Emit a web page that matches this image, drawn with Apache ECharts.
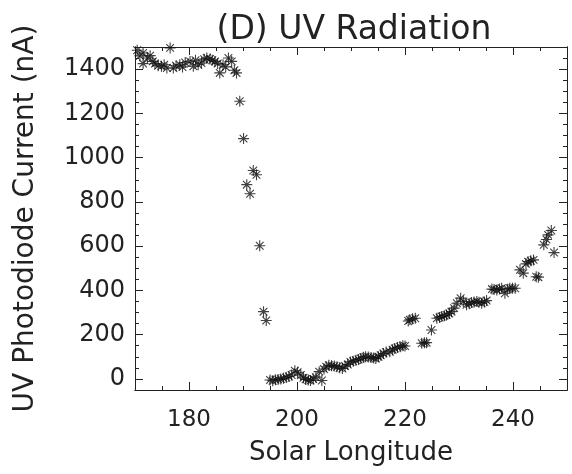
<!DOCTYPE html>
<html>
<head>
<meta charset="utf-8">
<script src="https://cdn.jsdelivr.net/npm/echarts@6/dist/echarts.min.js"></script>
<style>
html,body{margin:0;padding:0;background:#fff;}
#chart{width:572px;height:474px;}
</style>
</head>
<body>
<div id="chart"></div>
<script>
// Solar longitude values
var longitude = [
170.4,170.9,171.5,171.5,172.3,172.8,173.3,173.7,174.3,174.9,175.4,175.9,176.5,177.1,177.6,178.3,178.8,179.3,
180.2,180.8,181.2,181.7,182.3,182.8,183.3,183.9,184.3,184.8,185.3,185.7,186.3,186.8,187.3,187.9,188.4,188.8,
189.4,190.1,190.7,191.3,191.9,192.5,193.1,193.8,194.3,
195.0,195.5,196.0,196.5,197.0,197.5,198.0,198.5,199.0,199.6,200.1,200.7,201.2,201.6,202.1,202.5,203.0,203.5,
204.1,204.6,205.0,205.4,205.9,206.4,206.9,207.4,207.9,208.4,208.9,209.4,209.9,210.4,210.9,211.4,211.8,212.3,
212.7,213.2,213.7,214.2,214.6,215.1,215.5,216.0,216.5,217.2,217.7,218.1,218.6,219.1,219.6,220.0,
220.6,220.9,221.4,221.9,223.1,223.6,224.0,224.9,225.9,226.4,226.8,227.3,227.7,228.2,228.6,229.1,229.6,230.3,
230.8,231.4,231.9,232.3,232.8,233.3,233.7,234.2,234.7,235.1,236.1,236.5,237.0,237.5,237.9,238.5,239.0,239.4,
239.9,240.4,241.3,241.9,242.4,242.8,243.3,243.8,244.3,244.7,245.7,246.2,246.5,247.1,247.6
];
// UV photodiode current (nA)
var current = [
1485,1460,1473,1425,1450,1461,1435,1425,1415,1413,1420,1405,1496,1405,1415,1420,1410,1430,
1435,1413,1440,1420,1428,1445,1450,1446,1440,1435,1425,1383,1420,1410,1450,1435,1395,1383,
1255,1086,878,837,942,923,602,304,264,
-5,-8,-4,-2,0,3,6,11,18,37,30,18,5,-2,-5,-7,0,8,
33,-7,45,55,62,60,58,55,50,47,58,65,77,80,84,88,92,98,
100,99,97,95,92,100,107,115,122,123,132,138,142,146,150,149,
262,267,272,274,161,163,164,221,274,278,282,286,289,296,304,320,342,365,
350,335,340,345,348,350,346,342,348,354,406,404,402,406,410,387,405,410,
410,410,493,478,520,530,534,538,462,460,606,630,651,671,571
];
var xMajorTicks = [180, 200, 220, 240];
var yMajorTicks = [0, 200, 400, 600, 800, 1000, 1200, 1400];

var points = longitude.map(function (v, i) { return [v, current[i]]; });

var FONT = 'DejaVu Sans';
var AX = '#222';
var lineStyle = { color: AX, width: 1 };
function plain(v) { return String(v); }

function xAxis(pos, major, withLabels) {
  var a = {
    type: 'value', position: pos, min: 170, max: 250,
    axisLine: { show: true, onZero: false, lineStyle: lineStyle },
    splitLine: { show: false },
    axisTick: { show: true, inside: true, length: major ? 8 : 4, lineStyle: lineStyle },
    axisLabel: { show: false }
  };
  if (major) {
    a.axisTick.customValues = xMajorTicks;
    a.axisLabel = withLabels ? { show: true, customValues: xMajorTicks, formatter: plain, fontFamily: FONT, fontSize: 23, color: AX, margin: 19 } : { show: false };
  } else {
    a.interval = 5;
  }
  if (withLabels) {
    a.name = 'Solar Longitude';
    a.nameLocation = 'middle';
    a.nameGap = 50;
    a.nameTextStyle = { fontFamily: FONT, fontSize: 26, color: AX };
  }
  return a;
}
function yAxis(pos, major, withLabels) {
  var a = {
    type: 'value', position: pos, min: -50, max: 1500,
    axisLine: { show: true, onZero: false, lineStyle: lineStyle },
    splitLine: { show: false },
    axisTick: { show: true, inside: true, length: major ? 8 : 4, lineStyle: lineStyle },
    axisLabel: { show: false }
  };
  if (major) {
    a.axisTick.customValues = yMajorTicks;
    a.axisLabel = withLabels ? { show: true, customValues: yMajorTicks, formatter: plain, fontFamily: FONT, fontSize: 24, color: AX, margin: 10 } : { show: false };
  } else {
    a.interval = 50;
  }
  if (withLabels) {
    a.name = 'UV Photodiode Current (nA)';
    a.nameLocation = 'middle';
    a.nameRotate = 90;
    a.nameGap = 95;
    a.nameTextStyle = { fontFamily: FONT, fontSize: 28, color: AX };
  }
  return a;
}

var chart = echarts.init(document.getElementById('chart'), null, { renderer: 'canvas' });
chart.setOption({
  animation: false,
  backgroundColor: '#fff',
  title: {
    text: '(D) UV Radiation', left: 349, top: 9, textAlign: 'center',
    textStyle: { fontFamily: FONT, fontSize: 33, fontWeight: 'normal', color: AX }
  },
  grid: { left: 135, right: 5, top: 47, bottom: 84, containLabel: false },
  xAxis: [xAxis('bottom', false, false), xAxis('bottom', true, true), xAxis('top', false, false), xAxis('top', true, false)],
  yAxis: [yAxis('left', false, false), yAxis('left', true, true), yAxis('right', false, false), yAxis('right', true, false)],
  series: [{
    type: 'scatter',
    xAxisIndex: 0, yAxisIndex: 0,
    data: points,
    symbol: 'path://M5,0L5,10M0,5L10,5M1.5,1.5L8.5,8.5M1.5,8.5L8.5,1.5',
    symbolSize: 11,
    itemStyle: { color: 'rgba(0,0,0,0)', borderColor: '#111', borderWidth: 1.1 },
    clip: true
  }]
});
</script>
</body>
</html>
